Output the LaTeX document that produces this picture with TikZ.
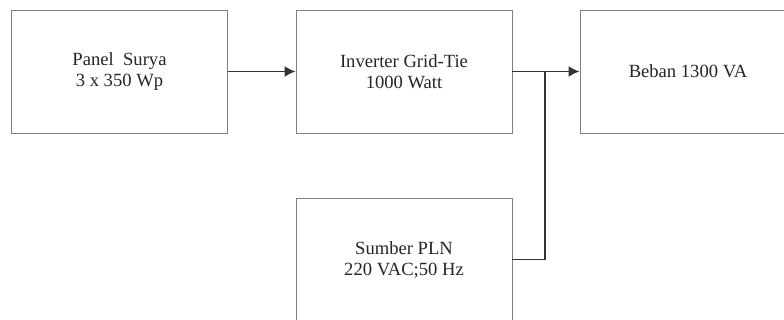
\documentclass[tikz,border=0pt]{standalone}
\usepackage{fontspec}
\setmainfont{Liberation Serif}
\usetikzlibrary{arrows.meta}
\begin{document}
\begin{tikzpicture}[x=1pt,y=1pt,
  blockbox/.style={draw=black!50, line width=0.9pt, minimum width=216pt, minimum height=123pt,
    align=center, inner sep=0pt, text=black!85,
    font=\fontsize{18.6pt}{21pt}\selectfont},
  conn/.style={draw=black!80, line width=1.9pt},
  arr/.style={conn, -{Latex[length=11pt,width=11pt]}}]
\clip (0,0) rectangle (784,320);
\useasboundingbox (0,0) rectangle (784,320);
\fill[white] (0,0) rectangle (784,320);
\node[blockbox] (panel) at (119.5,248.5) {Panel\ \ Surya\\3 x 350 Wp};
\node[blockbox] (inv) at (404,248.5) {Inverter Grid-Tie\\1000 Watt};
\node[blockbox] (beban) at (688,248.5) {Beban 1300 VA};
\node[blockbox] (pln) at (404,60.5) {Sumber PLN\\220 VAC;50 Hz};
\coordinate (junc) at (545,248.5);
\draw[arr] (panel.east) -- (inv.west);
\draw[arr] (inv.east) -- (beban.west);
\draw[conn] (pln.east) -| (junc);
\end{tikzpicture}
\end{document}
